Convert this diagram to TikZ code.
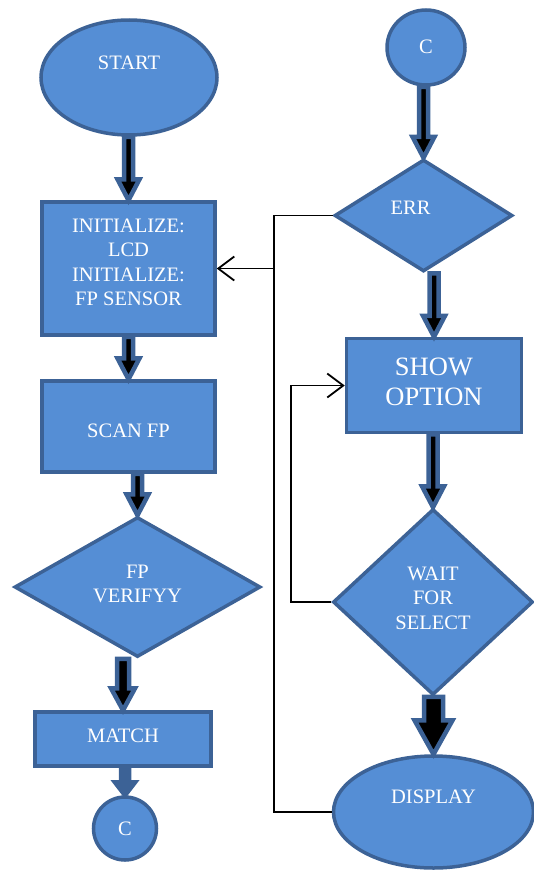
\documentclass[tikz,border=0pt]{standalone}
\usepackage{fontspec}
\setmainfont{Liberation Serif}
\usetikzlibrary{arrows.meta, positioning, calc, shapes.geometric}
\definecolor{fcblue}{HTML}{558ED5}
\definecolor{dkblue}{HTML}{3C6296}

\newcommand{\fcfont}{\fontsize{20.5}{24.5}\selectfont}
\newcommand{\bigfont}{\fontsize{26.5}{30}\selectfont}

% block arrow: [fill]{from}{to}{half shaft}{half head}{head length}
\newcommand{\blockarrow}[6][black]{%
  \draw[blockarr, fill=#1]
    ($(#3 |- #2)+(-#4,0)$) -- ($(#3)+(-#4,-#6)$) -- ($(#3)+(-#5,-#6)$)
    -- (#3) -- ($(#3)+(#5,-#6)$) -- ($(#3)+(#4,-#6)$)
    -- ($(#3 |- #2)+(#4,0)$) -- cycle;}

\tikzset{
  shapebase/.style={draw=dkblue, fill=fcblue, line width=3.5pt, inner sep=0pt},
  procbox/.style={shapebase, rectangle},
  termnode/.style={shapebase, ellipse},
  decide/.style={shapebase, diamond},
  txt/.style={text=white, font=\fcfont, align=center, inner sep=0pt},
  blockarr/.style={draw=dkblue, line width=4.5pt},
  link/.style={black, line width=1.8pt},
  openarr/.style={link, -{Straight Barb[length=16pt, width=24pt]}},
}

\begin{document}
\begin{tikzpicture}[x=1pt, y=-1pt]

  \useasboundingbox (0,0) rectangle (534,870);

  % === Left column ===
  \node[termnode, minimum width=176, minimum height=115] (start) at (129,77.5) {};
  \node[txt] (startT) at ($(start.center)+(0,-15)$) {START};

  \node[procbox, minimum width=173, minimum height=133] (init) at (128.5,268.5) {};
  \node[txt] (initT) at ($(init.center)+(0,-6)$) {INITIALIZE:\\LCD\\INITIALIZE:\\FP SENSOR};

  \node[procbox, minimum width=173, minimum height=91] (scan) at (128.5,426.5) {};
  \node[txt] (scanT) at ($(scan.center)+(0,4)$) {SCAN FP};

  \node[decide, minimum width=246, minimum height=140] (verify) at (137.5,587) {};
  \node[txt] (verifyT) at ($(verify.center)+(0,-3)$) {FP\\VERIFYY};

  \node[procbox, minimum width=176, minimum height=54] (match) at (123,739) {};
  \node[txt] (matchT) at ($(match.center)+(0,-3)$) {MATCH};

  \node[termnode, minimum width=63, minimum height=63] (cout) at (125,828.5) {};
  \node[txt] (coutT) at (cout.center) {C};

  % === Right column ===
  \node[termnode, minimum width=78, minimum height=75] (cin) at (426,47.5) {};
  \node[txt] (cinT) at ($(cin.center)+(0,-1)$) {C};

  \node[decide, minimum width=178, minimum height=112] (err) at (423.5,215.5) {};
  \node[txt] (errT) at ($(err.center)+(-13,-8)$) {ERR};

  \node[procbox, minimum width=175, minimum height=94] (show) at (434,385.5) {};
  \node[txt, font=\bigfont] (showT) at ($(show.center)+(0,-4)$) {SHOW\\OPTION};

  \node[decide, minimum width=200, minimum height=186] (wait) at (433,602) {};
  \node[txt] (waitT) at ($(wait.center)+(0,-4)$) {WAIT\\FOR\\SELECT};

  \node[termnode, minimum width=200, minimum height=112] (display) at (433.5,812) {};
  \node[txt] (displayT) at ($(display.center)+(0,-15)$) {DISPLAY};

  % === Block arrows ===
  \blockarrow{start.south}{init.north}{4.5}{11}{21}
  \blockarrow{init.south}{scan.north}{4.5}{11}{21}
  \blockarrow{scan.south}{verify.north}{4.5}{11}{21}
  \blockarrow{verify.south}{match.north}{6}{12}{22}
  \blockarrow[dkblue]{match.south}{cout.north}{4}{10}{13}
  \blockarrow{cin.south}{err.north}{4.5}{11}{21}
  \blockarrow{err.south}{show.north}{4.5}{11}{21}
  \blockarrow{show.south}{wait.north}{4.5}{11}{21}
  \blockarrow{wait.south}{display.north}{9.5}{19}{34}

  % === Connectors ===
  \coordinate (jn) at ($(init.east)+(57,0)$);
  \draw[link] (err.west) -| (jn);
  \draw[link] (display.west) -| (jn);
  \draw[openarr] (jn) -- (init.east);
  \draw[openarr] (wait.west) -- ++(-40,0) |- (show.west);

\end{tikzpicture}
\end{document}
